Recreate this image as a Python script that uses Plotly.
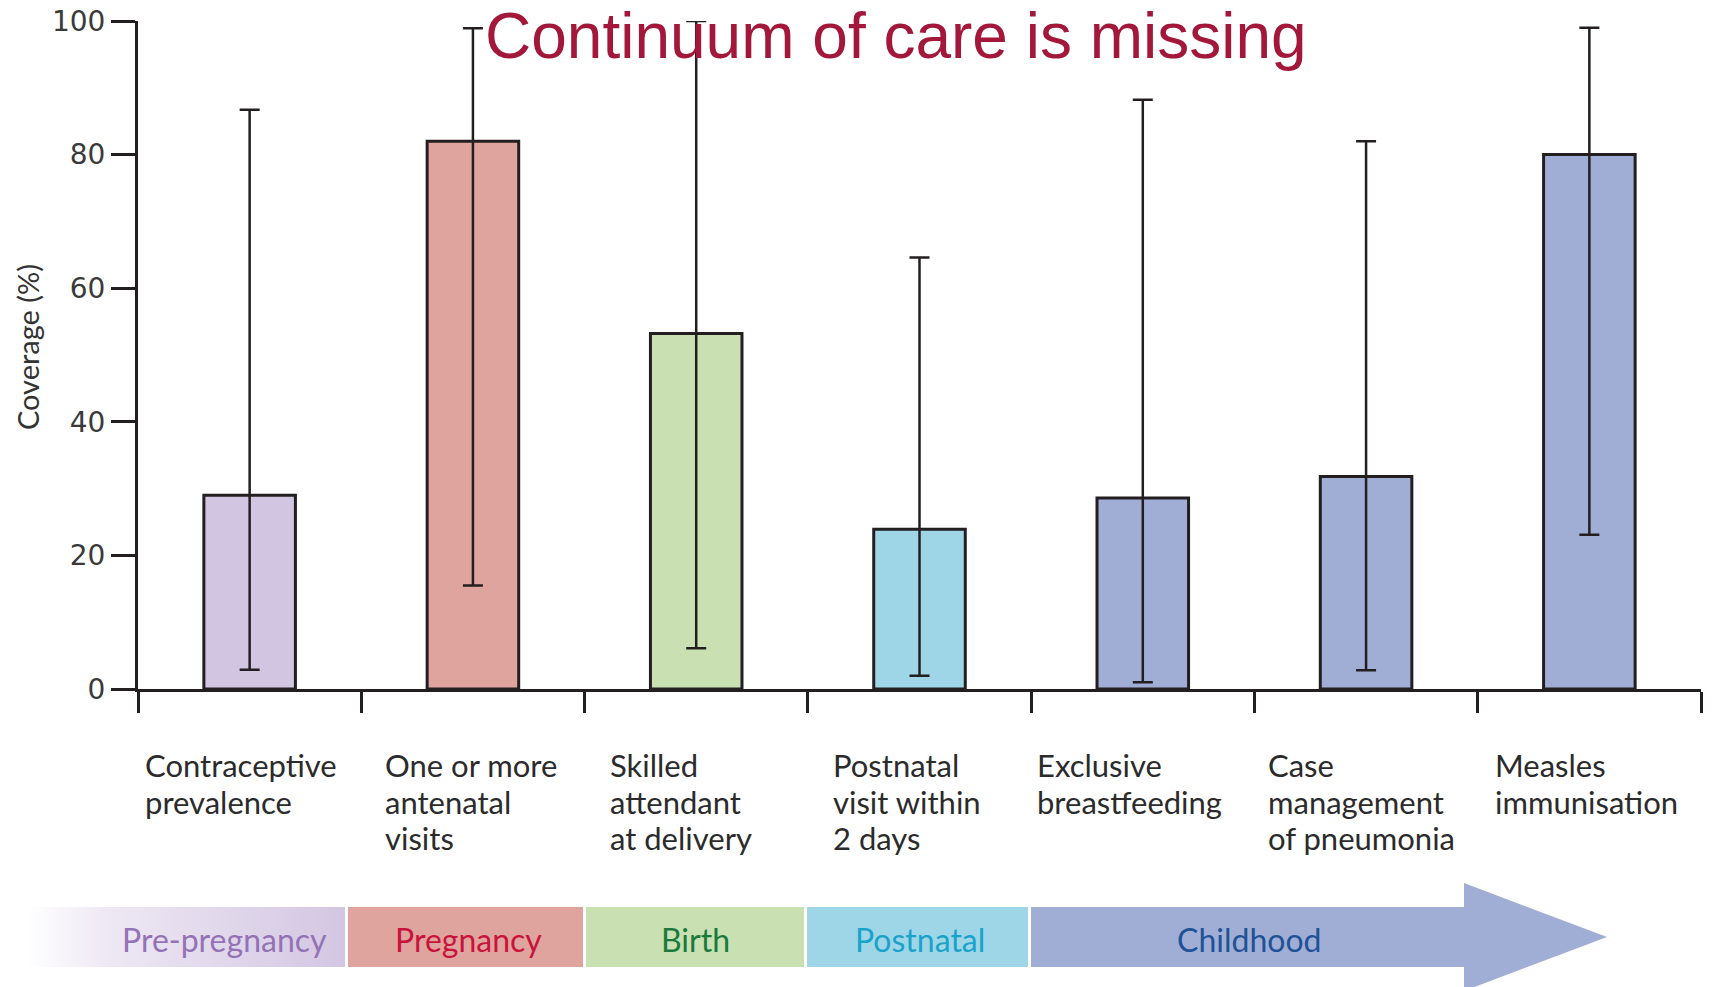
import plotly.graph_objects as go

# ---------------- data ----------------
categories = [["Contraceptive", "prevalence"], ["One or more", "antenatal", "visits"],
              ["Skilled", "attendant", "at delivery"], ["Postnatal", "visit within", "2 days"],
              ["Exclusive", "breastfeeding"], ["Case", "management", "of pneumonia"],
              ["Measles", "immunisation"]]
coverage = [29.0, 82.0, 53.2, 23.9, 28.6, 31.8, 80.0]
range_low = [2.9, 15.5, 6.1, 2.0, 1.0, 2.8, 23.1]
range_high = [86.7, 98.9, 100.0, 64.6, 88.2, 82.0, 99.0]
bar_colors = ["#D2C5E2", "#E0A49E", "#C9E0B3", "#9ED6E8", "#A0AED6", "#A0AED6", "#A0AED6"]
y_ticks = [0, 20, 40, 60, 80, 100]

stages = ["Pre-pregnancy", "Pregnancy", "Birth", "Postnatal", "Childhood"]
stage_fill = ["#D3C6E2", "#E0A49E", "#C9E0B3", "#9ED6E8", "#A0AED6"]
stage_text = ["#9472B6", "#C8143C", "#1A7A3C", "#1AA3C9", "#1F5296"]

W, H = 1714, 987
PX_L, PX_R, PX_T, PX_B = 138, 1701, 21, 689

ink = "#231F20"
n = len(coverage)

fig = go.Figure()
fig.add_trace(go.Bar(
    x=list(range(n)), y=coverage,
    width=0.41,
    marker=dict(color=bar_colors, line=dict(color=ink, width=3)),
    error_y=dict(type="data", symmetric=False,
                 array=[h - v for h, v in zip(range_high, coverage)],
                 arrayminus=[v - l for v, l in zip(coverage, range_low)],
                 color=ink, thickness=2.5, width=10),
    showlegend=False, hoverinfo="skip",
))

# ---------- stage band (overlay pixel axes) ----------
band_top, band_bot = 907, 967
seg = [(27, 345), (348, 583), (586, 804), (807, 1028), (1031, 1466)]
text_cx = [224, 468, 695, 920, 1249]

x0, x1 = seg[0]
fig.add_trace(go.Scatter(
    x=[x0, x1, x1, x0, x0], y=[band_top, band_top, band_bot, band_bot, band_top],
    xaxis="x2", yaxis="y2", mode="lines", line=dict(width=0, color="rgba(0,0,0,0)"),
    fill="toself", fillgradient=dict(type="horizontal",
                                     colorscale=[[0, "rgba(255,255,255,1)"], [0.25, "#EEE8F4"], [1, stage_fill[0]]]),
    showlegend=False, hoverinfo="skip"))

shapes = []
for i in range(1, 5):
    a, b = seg[i]
    shapes.append(dict(type="rect", xref="x2", yref="y2", x0=a, x1=b, y0=band_top, y1=band_bot,
                       fillcolor=stage_fill[i], line=dict(width=0), layer="below"))
shapes.append(dict(type="path", xref="x2", yref="y2",
                   path="M 1464 883 L 1607 937 L 1464 991 Z",
                   fillcolor=stage_fill[4], line=dict(width=0), layer="below"))

annotations = []
for i, s in enumerate(stages):
    annotations.append(dict(xref="x2", yref="y2", x=text_cx[i], y=939, text=s, showarrow=False,
                            xanchor="center", yanchor="middle",
                            font=dict(family="Lato", size=32, color=stage_text[i])))

# category labels, left aligned below the axis, one annotation per line
label_left = [143, 383, 608, 831, 1035, 1266, 1493]
for i, lines in enumerate(categories):
    for k, line in enumerate(lines):
        annotations.append(dict(xref="x2", yref="y2", x=label_left[i], y=765 + 36.5 * k, text=line,
                                showarrow=False, xanchor="left", yanchor="middle", align="left",
                                font=dict(family="Lato", size=31, color="#2B2B2B")))

# y-axis title
annotations.append(dict(xref="x2", yref="y2", x=27, y=347, text="Coverage (%)", showarrow=False,
                        textangle=-90, xanchor="center", yanchor="middle",
                        font=dict(family="Lato", size=29, color="#333333")))

# title
annotations.append(dict(xref="x2", yref="y2", x=896, y=36, text="Continuum of care is missing",
                        showarrow=False, xanchor="center", yanchor="middle",
                        font=dict(family="Liberation Sans, Arial", size=64, color="#A3183A")))

fig.update_layout(
    width=W, height=H,
    margin=dict(l=0, r=0, t=0, b=0),
    paper_bgcolor="white", plot_bgcolor="rgba(0,0,0,0)",
    xaxis=dict(domain=[PX_L / W, PX_R / W], range=[-0.5, n - 0.5], anchor="y",
               showline=True, linecolor=ink, linewidth=3,
               ticks="outside", ticklen=21, tickwidth=3, tickcolor=ink,
               tickvals=[i - 0.5 for i in range(n + 1)], showticklabels=False,
               showgrid=False, zeroline=False, automargin=False, fixedrange=True),
    yaxis=dict(domain=[(H - PX_B) / H, (H - PX_T) / H], range=[0, 100], anchor="x",
               showline=True, linecolor=ink, linewidth=3,
               ticks="outside", ticklen=24, tickwidth=3, tickcolor=ink,
               tickvals=y_ticks, ticktext=[str(t) for t in y_ticks],
               tickfont=dict(family="DejaVu Sans", size=28, color="#3A3A3A"),
               showgrid=False, zeroline=False, automargin=False, fixedrange=True),
    xaxis2=dict(domain=[0, 1], range=[0, W], anchor="y2", visible=False, fixedrange=True),
    yaxis2=dict(domain=[0, 1], range=[H, 0], anchor="x2", visible=False, fixedrange=True),
    shapes=shapes, annotations=annotations,
)

fig.write_html("out.html", config={"displayModeBar": False},
               post_script="document.body.style.margin='0px';document.body.style.overflow='hidden';")
